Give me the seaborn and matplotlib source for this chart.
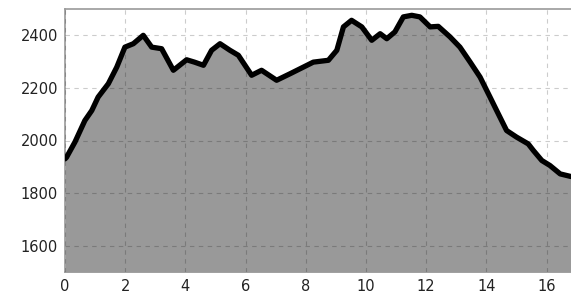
import pandas as pd
import matplotlib
matplotlib.use('Agg')
import matplotlib.pyplot as plt
import seaborn as sns

# Perfil de elevacion (km, m)
distancia = [0, 0.05, 0.33, 0.66, 0.89, 1.1, 1.44, 1.72, 1.99, 2.27, 2.6, 2.88,
             3.21, 3.6, 4.04, 4.3, 4.6, 4.87, 5.15, 5.48, 5.76, 6.2, 6.53, 7.03,
             7.48, 8.25, 8.75, 9.03, 9.25, 9.52, 9.86, 10.19, 10.47, 10.69, 10.96,
             11.24, 11.52, 11.79, 12.13, 12.4, 12.79, 13.12, 13.46, 13.79, 14.12,
             14.34, 14.67, 15.0, 15.39, 15.56, 15.84, 16.11, 16.45, 16.81]
elevacion = [1930, 1936, 1994, 2076, 2114, 2165, 2216, 2279, 2355, 2368, 2400, 2355,
             2349, 2267, 2307, 2298, 2286, 2343, 2368, 2343, 2324, 2248, 2267, 2229,
             2254, 2298, 2305, 2343, 2432, 2457, 2432, 2381, 2406, 2387, 2413,
             2470, 2476, 2470, 2432, 2434, 2394, 2355, 2298, 2241, 2165,
             2114, 2038, 2013, 1987, 1962, 1924, 1905, 1873, 1863]
xticks = [0, 2, 4, 6, 8, 10, 12, 14, 16]
yticks = [1600, 1800, 2000, 2200, 2400]

perfil = pd.DataFrame({'km': distancia, 'elev': elevacion})

sns.set_style('white')
fig = plt.figure(figsize=(5.71, 2.93), dpi=100)
ax = fig.add_axes([65 / 571, 21 / 293, 506 / 571, 263 / 293])

ax.fill_between(perfil['km'], perfil['elev'], 1500, color='#999999', lw=0, zorder=2)
sns.lineplot(data=perfil, x='km', y='elev', ax=ax, color='black', lw=3.8,
             solid_joinstyle='round', solid_capstyle='round', zorder=3)

ax.set_xlim(0, 16.81)
ax.set_ylim(1500, 2500)
ax.set_xticks(xticks)
ax.set_yticks(yticks)
ax.set_xlabel('')
ax.set_ylabel('')
# rejilla semitransparente: clara sobre blanco, mas oscura sobre el relleno
ax.grid(True, ls=(0, (4, 4)), color='black', alpha=0.2, lw=0.8, zorder=2.5)
ax.set_axisbelow(False)
for s in ['left', 'top', 'bottom']:
    ax.spines[s].set_color('#999999')
    ax.spines[s].set_linewidth(1.2)
ax.spines['right'].set_visible(False)
ax.tick_params(axis='both', length=4, width=0.8, color='#bbbbbb',
               labelsize=10.5, labelcolor='#222222', pad=1)

plt.savefig('out.png', dpi=100)
